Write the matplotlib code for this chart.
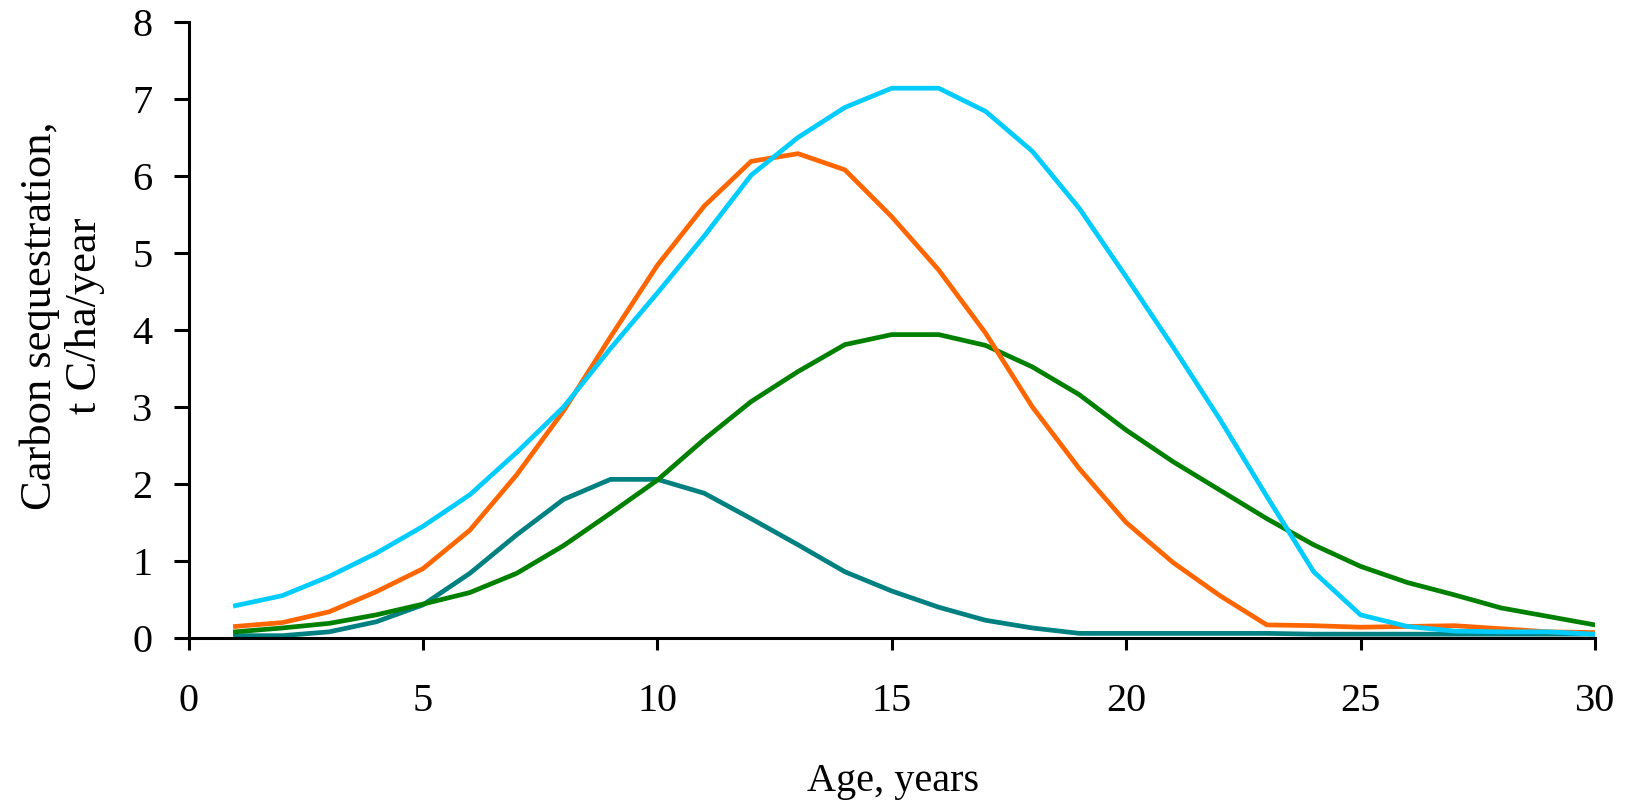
import matplotlib
matplotlib.use("Agg")
import matplotlib.pyplot as plt

plt.rcParams['font.family'] = ['Liberation Serif', 'DejaVu Serif']

years = list(range(1, 31))

cyan_vals = [0.42, 0.55, 0.80, 1.10, 1.45, 1.86, 2.41, 3.00, 3.76, 4.48,
             5.22, 6.01, 6.50, 6.89, 7.14, 7.14, 6.84, 6.32, 5.58, 4.69,
             3.78, 2.84, 1.84, 0.86, 0.30, 0.15, 0.09, 0.08, 0.08, 0.05]
orange_vals = [0.15, 0.20, 0.34, 0.60, 0.90, 1.40, 2.12, 2.95, 3.91, 4.84,
               5.61, 6.19, 6.29, 6.08, 5.47, 4.78, 3.96, 3.00, 2.20, 1.50,
               0.98, 0.55, 0.17, 0.16, 0.14, 0.15, 0.16, 0.12, 0.08, 0.07]
green_vals = [0.08, 0.13, 0.19, 0.30, 0.44, 0.59, 0.84, 1.20, 1.62, 2.05,
              2.58, 3.07, 3.46, 3.81, 3.94, 3.94, 3.80, 3.52, 3.16, 2.70,
              2.29, 1.92, 1.55, 1.21, 0.93, 0.72, 0.56, 0.39, 0.28, 0.17]
teal_vals = [0.03, 0.03, 0.08, 0.21, 0.43, 0.84, 1.34, 1.80, 2.06, 2.06,
             1.88, 1.55, 1.21, 0.86, 0.61, 0.40, 0.23, 0.13, 0.06, 0.06,
             0.06, 0.06, 0.06, 0.05, 0.05, 0.05, 0.05, 0.05, 0.05, 0.05]

x_ticks = [0, 5, 10, 15, 20, 25, 30]
y_ticks = [0, 1, 2, 3, 4, 5, 6, 7, 8]

fig = plt.figure(figsize=(16.27, 8.02), dpi=100)
ax = fig.add_axes([0.1159, 0.2045, 0.8644, 0.7681])

lw = 3.4
ax.plot(years, teal_vals, color='#008080', lw=lw)
ax.plot(years, green_vals, color='#008000', lw=lw)
ax.plot(years, orange_vals, color='#FF6600', lw=lw)
ax.plot(years, cyan_vals, color='#00CCFF', lw=lw)

ax.set_xlim(0, 30)
ax.set_ylim(0, 8)
ax.set_xticks(x_ticks)
ax.set_yticks(y_ticks)

for s in ['top', 'right']:
    ax.spines[s].set_visible(False)
for s in ['left', 'bottom']:
    ax.spines[s].set_linewidth(2.2)

ax.tick_params(axis='y', direction='out', length=11, width=2.2, pad=15, labelsize=29)
ax.tick_params(axis='x', direction='out', length=8.6, width=2.2, pad=24, labelsize=29)

fig.text(893 / 1627, 1 - 781 / 802, 'Age, years', ha='center', va='center', fontsize=29)
fig.text(62 / 1627, 1 - 316 / 802, 'Carbon sequestration,\nt C/ha/year', ha='center',
         va='center', rotation=90, fontsize=32, multialignment='center', linespacing=1.15)

fig.savefig('out.png', dpi=100)
